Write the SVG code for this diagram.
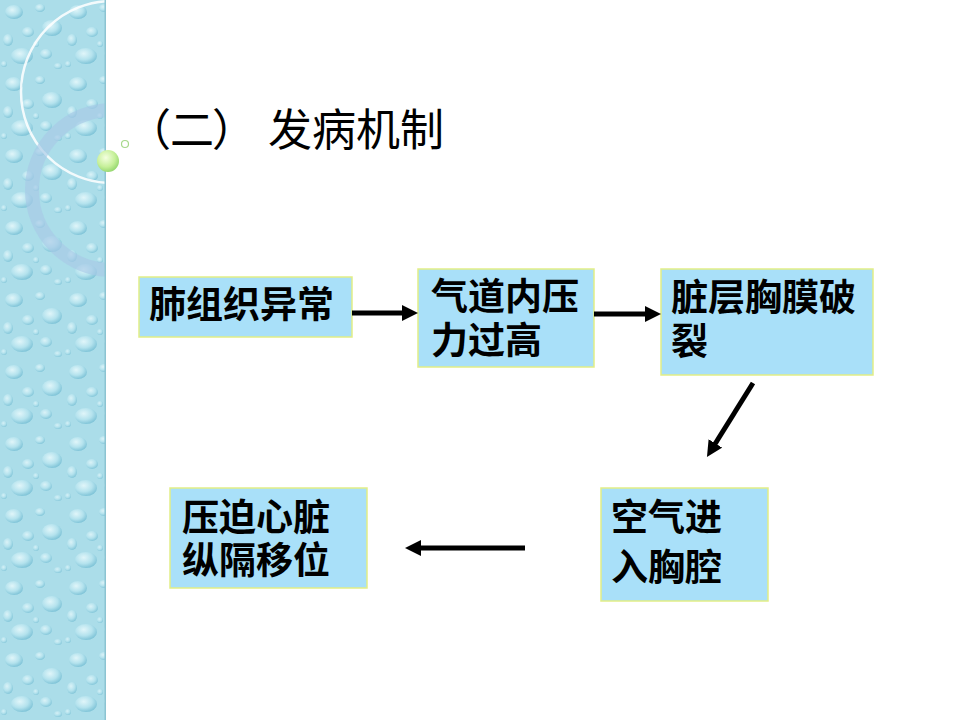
<svg xmlns="http://www.w3.org/2000/svg" width="960" height="720" viewBox="0 0 960 720">
  <style>
    .box { fill: #a9e0f9; stroke: #e2ee86; stroke-width: 1.5; }
    .lbl { font-family: "Noto Sans CJK SC", "Noto Sans", sans-serif; font-size: 37px; font-weight: bold; fill: #000; }
    .title { font-family: "Noto Sans CJK SC", sans-serif; font-size: 44px; fill: #000; }
    .conn { stroke: #000; stroke-width: 5; fill: none; marker-end: url(#ah); }
  </style>
  <defs>
    <marker id="ah" markerUnits="userSpaceOnUse" markerWidth="18" markerHeight="18" refX="4" refY="8" orient="auto">
      <path d="M0,0 L16,8 L0,16 z" fill="#000"/>
    </marker>
    <radialGradient id="drop" cx="0.4" cy="0.35" r="0.7">
      <stop offset="0" stop-color="#e6f8fb"/>
      <stop offset="0.55" stop-color="#b5e3ee"/>
      <stop offset="1" stop-color="#72bcd2"/>
    </radialGradient>
    <radialGradient id="ball" cx="0.4" cy="0.35" r="0.7">
      <stop offset="0" stop-color="#f4ffe0"/>
      <stop offset="0.6" stop-color="#c6f09a"/>
      <stop offset="1" stop-color="#8fd46a"/>
    </radialGradient>
    <pattern id="drops" x="0" y="0" width="64" height="72" patternUnits="userSpaceOnUse">
      <rect width="64" height="72" fill="#abdde9"/>
      <ellipse cx="14" cy="12" rx="9" ry="7" fill="url(#drop)" opacity="0.9"/>
      <ellipse cx="40" cy="8" rx="5" ry="4" fill="url(#drop)" opacity="0.8"/>
      <ellipse cx="52" cy="28" rx="10" ry="8" fill="url(#drop)" opacity="0.9"/>
      <ellipse cx="28" cy="32" rx="6" ry="5" fill="url(#drop)" opacity="0.8"/>
      <ellipse cx="8" cy="40" rx="5" ry="6" fill="url(#drop)" opacity="0.8"/>
      <ellipse cx="22" cy="56" rx="11" ry="8" fill="url(#drop)" opacity="0.9"/>
      <ellipse cx="46" cy="54" rx="6" ry="5" fill="url(#drop)" opacity="0.8"/>
      <ellipse cx="58" cy="66" rx="4" ry="3" fill="url(#drop)" opacity="0.7"/>
      <ellipse cx="36" cy="44" rx="3" ry="3" fill="url(#drop)" opacity="0.7"/>
      <ellipse cx="4" cy="64" rx="3" ry="3" fill="url(#drop)" opacity="0.7"/>
    </pattern>
    <clipPath id="stripClip"><rect x="0" y="0" width="106" height="720"/></clipPath>
  </defs>

  <rect x="0" y="0" width="960" height="720" fill="#ffffff"/>

  <g id="strip">
    <rect x="0" y="0" width="106" height="720" fill="url(#drops)"/>
    <g clip-path="url(#stripClip)">
      <circle cx="112" cy="92" r="91" fill="none" stroke="#ffffff" stroke-width="2.5" opacity="0.85"/>
      <circle cx="112" cy="190" r="80" fill="none" stroke="#a8c9e6" stroke-width="14" opacity="0.65"/>
    </g>
    <rect x="104.5" y="0" width="1.5" height="720" fill="#8cc4d2"/>
    <circle cx="108" cy="161" r="11" fill="url(#ball)"/>
    <circle cx="125" cy="144" r="3.5" fill="none" stroke="#a6d88a" stroke-width="1.2"/>
  </g>

  <g id="title">
    <text class="title" x="127" y="146">（</text>
    <text class="title" x="170" y="146">二</text>
    <text class="title" x="212" y="146">）</text>
    <text class="title" x="268" y="146">发病机制</text>
  </g>

  <g id="n1">
    <rect class="box" x="139" y="277" width="213" height="60"/>
    <text class="lbl" x="149" y="318">肺组织异常</text>
  </g>
  <g id="n2">
    <rect class="box" x="418" y="269" width="176" height="98"/>
    <text class="lbl" x="431" y="310">气道内压<tspan x="431" dy="44">力过高</tspan></text>
  </g>
  <g id="n3">
    <rect class="box" x="661" y="269" width="212" height="106"/>
    <text class="lbl" x="671" y="311">脏层胸膜破<tspan x="671" dy="44">裂</tspan></text>
  </g>
  <g id="n4">
    <rect class="box" x="601" y="488" width="167" height="113"/>
    <text class="lbl" x="611" y="531">空气进<tspan x="611" dy="50">入胸腔</tspan></text>
  </g>
  <g id="n5">
    <rect class="box" x="170" y="488" width="197" height="100"/>
    <text class="lbl" x="182" y="531">压迫心脏<tspan x="182" dy="43">纵隔移位</tspan></text>
  </g>

  <g id="connectors">
    <line class="conn" x1="352" y1="313" x2="406" y2="313"/>
    <line class="conn" x1="594" y1="314" x2="649" y2="314"/>
    <line class="conn" x1="753" y1="383" x2="713.3" y2="446.8"/>
    <line class="conn" x1="525" y1="548" x2="417" y2="548"/>
  </g>
</svg>
